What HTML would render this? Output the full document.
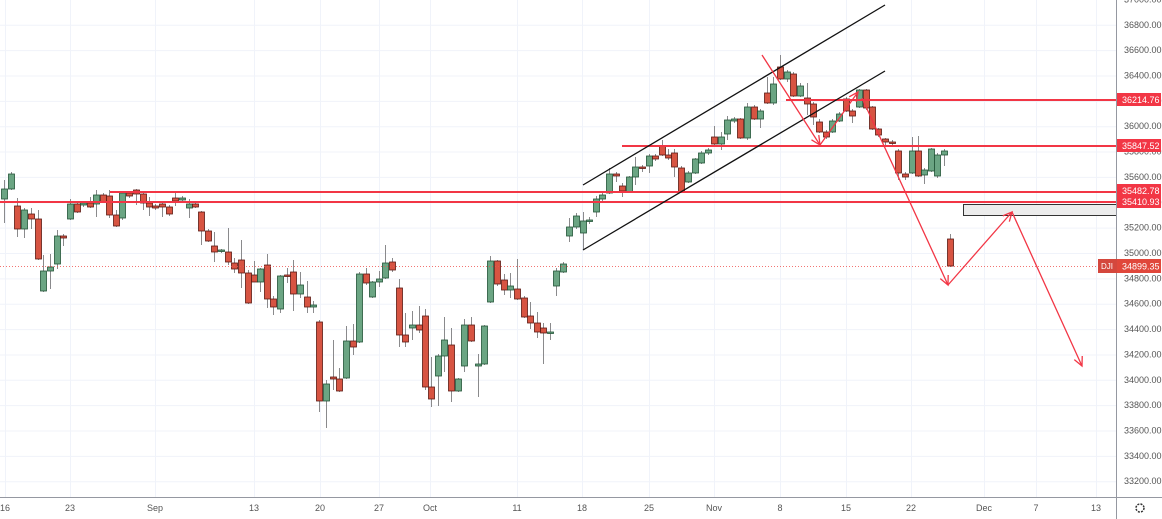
<!DOCTYPE html>
<html><head><meta charset="utf-8"><style>
html,body{margin:0;padding:0;background:#fff;width:1162px;height:519px;overflow:hidden}
svg{display:block}
text{font-family:"Liberation Sans",sans-serif}
</style></head><body>
<svg id="s" width="1162" height="519" xmlns="http://www.w3.org/2000/svg">
<rect width="1162" height="519" fill="#fff"/>
<g id="grid" stroke="#f0f3fa" stroke-width="1"></g>
<g id="c"></g>
<g id="ov"></g>
<g id="ax"></g>
</svg>
<script>
const NS="http://www.w3.org/2000/svg";
function el(p,t,a,txt){const e=document.createElementNS(NS,t);for(const k in a)e.setAttribute(k,a[k]);if(txt!==undefined)e.textContent=txt;document.getElementById(p).appendChild(e);return e;}
const Y=p=>253-(p-35000)*0.1268;
// grid
for(let p=33200;p<=36800;p+=200){el('grid','line',{x1:0,x2:1116,y1:Y(p)+.5,y2:Y(p)+.5});}
const xs=[[5,'16'],[70,'23'],[155,'Sep'],[254,'13'],[320,'20'],[379,'27'],[430,'Oct'],[517,'11'],[582,'18'],[649,'25'],[714,'Nov'],[780,'8'],[846,'15'],[911,'22'],[984,'Dec'],[1036,'7'],[1096,'13']];
xs.forEach(([x])=>el('grid','line',{x1:x+.5,x2:x+.5,y1:0,y2:497}));
// candles [x,top,bot,wt,wb,color]
const C=[
[4,189,199,180,223,'g'],[11,174,189,172,190,'g'],[17,206,229,198,237,'r'],[24,210,229,208,238,'g'],[31,214,219,208,229,'r'],[38,219,259,210,260,'r'],
[43,271,291,255,292,'g'],[50,267,271,254,289,'g'],[57,236,264,230,269,'g'],[63,236,238,234,246,'r'],
[70,204,219,199,220,'g'],[77,204,212,202,213,'r'],[83,203,205,201,207,'g'],[90,203,207,197,208,'r'],[96,195,204,190,217,'g'],[103,195,202,193,203,'r'],
[109,196,215,190,218,'r'],[116,215,226,210,227,'r'],[122,193,218,191,220,'g'],[129,193,196,191,198,'r'],[136,190,194,189,205,'r'],
[143,194,203,192,210,'r'],[149,203,207,197,216,'r'],[155,206,208,204,210,'r'],[162,204,207,203,217,'r'],[169,207,214,205,216,'r'],
[175,198,201,193,206,'r'],[182,198,200,196,202,'g'],[189,204,208,199,218,'g'],[195,204,207,202,208,'r'],
[201,212,231,211,245,'r'],[208,231,241,229,242,'r'],[214,246,252,232,262,'r'],[221,250,251,249,253,'g'],[228,252,262,228,265,'r'],
[234,263,269,258,273,'r'],[241,260,273,240,288,'r'],[248,273,303,270,304,'r'],[254,275,282,261,282,'r'],[260,269,282,268,292,'g'],
[267,265,299,254,308,'r'],[273,299,307,296,315,'r'],[280,276,309,275,313,'g'],[287,275,276,268,283,'r'],[293,272,294,260,311,'r'],
[300,285,294,272,298,'g'],[307,297,307,281,313,'r'],[313,305,307,301,313,'g'],[319,322,401,320,412,'r'],[326,384,401,380,428,'g'],
[333,377,379,340,390,'r'],[339,379,391,368,392,'r'],[346,341,378,326,379,'g'],[353,341,347,324,355,'r'],[359,274,342,272,343,'g'],
[366,274,283,268,285,'r'],[372,282,297,281,298,'g'],[379,279,282,271,287,'g'],[385,263,278,245,279,'g'],[392,262,270,258,272,'r'],
[399,288,335,279,347,'r'],[405,335,342,313,347,'r'],[412,325,328,311,340,'g'],[419,325,330,306,333,'r'],[425,316,387,309,390,'r'],
[431,387,399,357,407,'r'],[438,356,376,354,406,'g'],[444,340,356,317,372,'g'],[451,345,391,328,402,'r'],[458,379,391,378,392,'g'],
[464,325,366,319,372,'g'],[471,325,341,317,342,'r'],[478,364,366,354,397,'g'],[484,326,364,325,365,'g'],
[490,261,302,256,303,'g'],[497,261,284,260,286,'r'],[504,280,290,274,295,'r'],[510,286,290,273,298,'g'],[517,289,299,259,300,'r'],
[524,298,317,296,318,'r'],[530,316,323,302,329,'r'],[537,323,332,312,338,'r'],[543,328,333,323,364,'r'],[550,332,333,323,340,'g'],
[556,271,286,268,296,'g'],[563,264,272,262,273,'g'],
[569,227,236,218,242,'g'],[576,216,227,213,229,'g'],[583,221,233,212,250,'g'],[589,220,221,217,224,'g'],[596,199,212,196,217,'g'],
[602,195,199,193,201,'g'],[609,174,193,168,194,'g'],[616,174,176,172,182,'r'],[622,186,191,183,197,'r'],[629,177,192,176,193,'g'],
[635,167,177,157,185,'g'],[642,167,168,165,172,'r'],[649,156,166,154,173,'g'],[655,156,159,154,161,'r'],[662,146,155,140,156,'r'],
[668,155,158,149,160,'r'],[674,153,167,149,177,'r'],[681,168,192,166,193,'r'],[688,173,182,171,183,'g'],[695,159,173,158,174,'g'],
[701,153,163,151,164,'g'],[708,150,153,148,155,'g'],[714,137,144,126,146,'r'],[721,137,144,132,150,'g'],[727,120,134,116,140,'g'],
[734,119,121,117,123,'g'],[740,119,138,118,139,'r'],[747,107,138,103,140,'g'],[754,107,119,105,120,'r'],[760,111,119,109,128,'g'],
[767,93,103,77,104,'r'],[773,84,103,77,105,'g'],[780,67,79,55,80,'r'],[787,72,79,70,82,'g'],[793,74,96,72,97,'r'],[800,86,96,83,97,'g'],
[807,98,104,83,115,'r'],[813,104,117,102,125,'r'],[819,122,132,119,133,'r'],[826,132,137,130,139,'r'],[832,121,132,119,133,'g'],
[839,114,121,112,122,'g'],[846,99,111,97,112,'r'],[852,111,116,109,123,'r'],[859,90,107,89,108,'g'],[866,90,108,89,110,'r'],
[872,107,129,106,130,'r'],[878,129,135,128,137,'r'],[885,139,142,138,145,'r'],[892,142,143,140,145,'r'],[898,151,173,149,180,'r'],
[905,174,177,172,180,'r'],[912,151,173,137,174,'g'],[918,151,176,136,177,'r'],[924,170,175,168,184,'g'],[931,149,171,148,172,'g'],
[937,155,176,153,178,'g'],[944,151,155,149,166,'g'],[950,239,266,234,267,'r']];
C.forEach(([x,t,b,wt,wb,c])=>{
 el('c','line',{x1:x+.5,x2:x+.5,y1:wt,y2:wb,stroke:'#8a8a8c','stroke-width':1});
 el('c','rect',{x:x-2.5,y:t,width:6,height:Math.max(b-t,1.5),fill:c=='g'?'#6ba583':'#d75442',stroke:c=='g'?'#225437':'#5b1a13','stroke-width':0.8});
});
// dotted last price
el('ov','line',{x1:0,x2:1098,y1:266.5,y2:266.5,stroke:'#ef5350','stroke-width':1,'stroke-dasharray':'1,2',opacity:.8});
// horizontal levels
[[786,100],[622,146],[110,192],[0,202]].forEach(([x,y])=>el('ov','line',{x1:x,x2:1116,y1:y,y2:y,stroke:'#f23645','stroke-width':2}));
// channel
el('ov','line',{x1:583,y1:185,x2:885,y2:5,stroke:'#111','stroke-width':1.3});
el('ov','line',{x1:583,y1:250,x2:885,y2:71,stroke:'#111','stroke-width':1.3});
// gray box
el('ov','rect',{x:963.5,y:204.5,width:153,height:11,fill:'#ececec',stroke:'#333','stroke-width':1});
// arrows
function arrow(x1,y1,x2,y2){el('ov','line',{x1,y1,x2,y2,stroke:'#f23645','stroke-width':1.3});
 const a=Math.atan2(y2-y1,x2-x1),L=10,s=0.45;
 el('ov','polyline',{points:`${x2-L*Math.cos(a-s)},${y2-L*Math.sin(a-s)} ${x2},${y2} ${x2-L*Math.cos(a+s)},${y2-L*Math.sin(a+s)}`,fill:'none',stroke:'#f23645','stroke-width':1.3});}
arrow(762,55,820,145);arrow(820,145,858,92);arrow(862,98,948,285);arrow(948,285,1012,212);arrow(1012,212,1082,366);
// axes
el('ax','rect',{x:1116,y:0,width:46,height:519,fill:'#fff'});
el('ax','rect',{x:0,y:497,width:1162,height:22,fill:'#fff'});
el('ax','line',{x1:1116.5,x2:1116.5,y1:0,y2:519,stroke:'#9598a1'});
el('ax','line',{x1:0,x2:1162,y1:497.5,y2:497.5,stroke:'#9598a1'});
for(let p=33200;p<=37000;p+=200){el('ax','text',{x:1124,y:Y(p)+3,'font-size':9,fill:'#555'},p.toFixed(2));}
xs.forEach(([x,t])=>el('ax','text',{x:x,y:511,'font-size':9,fill:'#555','text-anchor':'middle'},t));
[[100,'36214.76'],[146,'35847.52'],[191,'35482.78'],[202,'35410.93']].forEach(([y,t])=>{
 el('ax','rect',{x:1117,y:y-7,width:44,height:13,fill:'#f23645'});
 el('ax','text',{x:1122,y:y+3,'font-size':9,fill:'#fff'},t);});
el('ax','rect',{x:1098,y:259,width:19,height:14,fill:'#d4473d'});
el('ax','text',{x:1101,y:269,'font-size':8,fill:'#fff'},'DJI');
el('ax','rect',{x:1117,y:259,width:44,height:14,fill:'#e0473b'});
el('ax','text',{x:1122,y:269.5,'font-size':9,fill:'#fff'},'34899.35');
el('ax','circle',{cx:1140,cy:508,r:4,fill:'none',stroke:'#333','stroke-width':1.5,'stroke-dasharray':'2,1.2'});
</script>
</body></html>
